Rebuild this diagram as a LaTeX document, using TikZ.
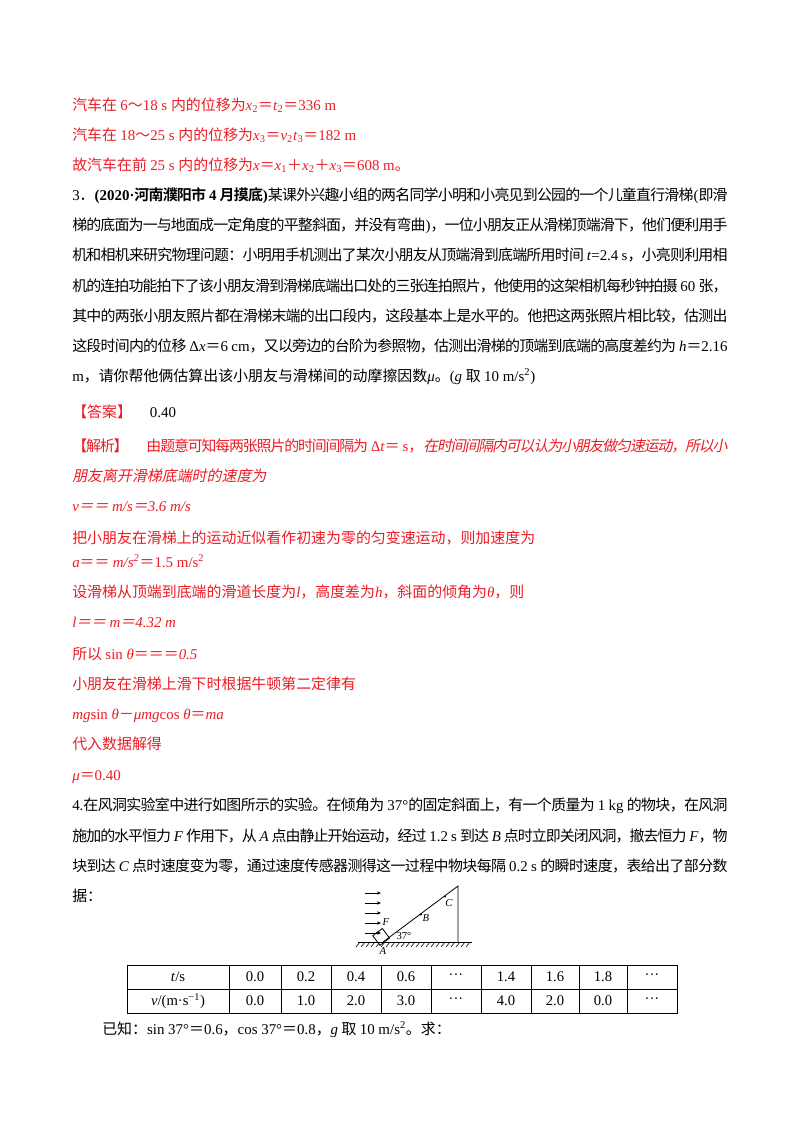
\documentclass[tikz,border=0pt]{standalone}
\usetikzlibrary{arrows.meta}
\usepackage{fontspec}
\setmainfont{Liberation Serif}
\newfontfamily\latinf{Liberation Serif}
\newfontfamily\cjk{Noto Sans CJK SC}[ItalicFont={Noto Sans CJK SC},ItalicFeatures={FakeSlant=0.2},BoldFont={Noto Sans CJK SC Bold},BoldItalicFont={Noto Sans CJK SC Bold},BoldItalicFeatures={FakeSlant=0.2}]
\XeTeXinterchartokenstate=1
\newXeTeXintercharclass\cjkcls
\newcount\cc
\cc="3000 \loop \XeTeXcharclass\cc=\cjkcls \advance\cc1 \ifnum\cc<"3040 \repeat
\cc="4E00 \loop \XeTeXcharclass\cc=\cjkcls \advance\cc1 \ifnum\cc<"A000 \repeat
\cc="FF00 \loop \XeTeXcharclass\cc=\cjkcls \advance\cc1 \ifnum\cc<"FFF0 \repeat
\XeTeXinterchartoks 0 \cjkcls={\cjk}
\XeTeXinterchartoks 4095 \cjkcls={\cjk}
\XeTeXinterchartoks \cjkcls 0={\latinf}
\XeTeXinterchartoks 4095 0={\latinf}
\XeTeXinterchartoks \cjkcls \cjkcls={\hskip0pt plus 0.8pt minus 1.5pt\relax}
\definecolor{rd}{RGB}{236,28,36}
\newcommand{\vi}[1]{\textit{#1}}
\newcommand{\sbs}[1]{\textsubscript{#1}}
\newcommand{\sps}[1]{\textsuperscript{#1}}
\newcommand{\fl}[1]{\makebox[491.5pt][s]{#1}}
\begin{document}
\begin{tikzpicture}[x=0.75pt,y=-0.75pt,
  ln/.style={anchor=base west,inner sep=0pt,font=\fontsize{11.2}{13}\selectfont},
  full/.style={ln},
  red/.style={text=rd},
  lbl/.style={inner sep=0pt,font=\fontsize{8}{9}\selectfont\itshape},
  cell/.style={inner sep=0pt,font=\fontsize{11}{13}\selectfont}]
\useasboundingbox (0,0) rectangle (800,1132);
\node[ln,red] (l1) at (72,110) {汽车在 6～18 s 内的位移为\vi{x}\sbs{2}＝\vi{t}\sbs{2}＝336 m};
\node[ln,red] (l2) at (72,140) {汽车在 18～25 s 内的位移为\vi{x}\sbs{3}＝\vi{v}\sbs{2}\vi{t}\sbs{3}＝182 m};
\node[ln,red] (l3) at (72,170) {故汽车在前 25 s 内的位移为\vi{x}＝\vi{x}\sbs{1}＋\vi{x}\sbs{2}＋\vi{x}\sbs{3}＝608 m。};
\node[full] (l4) at (72,200) {\fl{3．\textbf{(2020·河南濮阳市 4 月摸底)}某课外兴趣小组的两名同学小明和小亮见到公园的一个儿童直行滑梯(即滑}};
\node[full] (l5) at (72,230) {\fl{梯的底面为一与地面成一定角度的平整斜面，并没有弯曲)，一位小朋友正从滑梯顶端滑下，他们便利用手}};
\node[full] (l6) at (72,260) {\fl{机和相机来研究物理问题：小明用手机测出了某次小朋友从顶端滑到底端所用时间 \vi{t}=2.4 s，小亮则利用相}};
\node[full] (l7) at (72,291) {\fl{机的连拍功能拍下了该小朋友滑到滑梯底端出口处的三张连拍照片，他使用的这架相机每秒钟拍摄 60 张，}};
\node[full] (l8) at (72,321) {\fl{其中的两张小朋友照片都在滑梯末端的出口段内，这段基本上是水平的。他把这两张照片相比较，估测出}};
\node[full] (l9) at (72,351) {\fl{这段时间内的位移 Δ\vi{x}＝6 cm，又以旁边的台阶为参照物，估测出滑梯的顶端到底端的高度差约为 \vi{h}＝2.16}};
\node[ln] (l10) at (72,381) {m，请你帮他俩估算出该小朋友与滑梯间的动摩擦因数\vi{μ}。(\vi{g} 取 10 m/s\sps{2})};
\node[ln] (l11) at (72,417) {\textcolor{rd}{【答案】}\hspace{1.2em}0.40};
\node[full,red] (l12) at (72,451) {\fl{【解析】\hspace{1.2em}由题意可知每两张照片的时间间隔为 Δ\vi{t}＝ s，\itshape 在时间间隔内可以认为小朋友做匀速运动，所以小}};
\node[ln,red] (l13) at (72,481) {\itshape 朋友离开滑梯底端时的速度为};
\node[ln,red] (l14) at (72,511) {\itshape v＝＝ m/s＝3.6 m/s};
\node[ln,red] (l15) at (72,543) {把小朋友在滑梯上的运动近似看作初速为零的匀变速运动，则加速度为};
\node[ln,red] (l16) at (72,567) {\vi{a}＝＝ \vi{m/s\sps{2}}＝1.5 m/s\sps{2}};
\node[ln,red] (l17) at (72,597) {设滑梯从顶端到底端的滑道长度为\vi{l}，高度差为\vi{h}，斜面的倾角为\vi{θ}，则};
\node[ln,red] (l18) at (72,627) {\itshape l＝＝ m＝4.32 m};
\node[ln,red] (l19) at (72,659) {所以 sin \vi{θ}＝＝＝\vi{0.5}};
\node[ln,red] (l20) at (72,689) {小朋友在滑梯上滑下时根据牛顿第二定律有};
\node[ln,red] (l21) at (72,719) {\vi{mg}sin \vi{θ}－\vi{μmg}cos \vi{θ}＝\vi{ma}};
\node[ln,red] (l22) at (72,749) {代入数据解得};
\node[ln,red] (l23) at (72,780) {\vi{μ}＝0.40};
\node[full] (l24) at (72,810) {\fl{4.在风洞实验室中进行如图所示的实验。在倾角为 37°的固定斜面上，有一个质量为 1 kg 的物块，在风洞}};
\node[full] (l25) at (72,841) {\fl{施加的水平恒力 \vi{F} 作用下，从 \vi{A} 点由静止开始运动，经过 1.2 s 到达 \vi{B} 点时立即关闭风洞，撤去恒力 \vi{F}，物}};
\node[full] (l26) at (72,871) {\fl{块到达 \vi{C} 点时速度变为零，通过速度传感器测得这一过程中物块每隔 0.2 s 的瞬时速度，表给出了部分数}};
\node[ln] (l27) at (72,901) {据：};
% figure
\coordinate (gl) at (358,942); \coordinate (gr) at (472,942);
\coordinate (A) at (383,942); \coordinate (T) at (458,886); \coordinate (Tb) at (458,942);
\draw[line width=0.6pt] (gl) -- (gr);
\foreach \i in {0,...,22} \draw[line width=0.4pt] (360+5*\i,942) -- ++(-4,5);
\draw[line width=0.6pt] (A) -- (T) -- (Tb);
\node[draw,line width=0.6pt,minimum size=9pt,inner sep=0pt,rotate=37,anchor=south] (blk) at (385,942) {};
\foreach \yy in {893,903,913,923,933} \draw[-{Stealth[length=3pt,width=2.5pt]},line width=0.5pt] (365,\yy) -- (381,\yy);
\fill (421,914.5) circle (1.1) (445,896.5) circle (1.1);
\node[lbl] (fB) at (426,918) {B};
\node[lbl] (fC) at (449,903) {C};
\node[lbl] (fF) at (386,922) {F};
\node[inner sep=0pt,font=\fontsize{8}{9}\selectfont] (ang) at (404,936) {37°};
\node[lbl] (fA) at (383,951) {A};
% table
\draw[line width=0.5pt] (127,965) rectangle (677,1013);
\draw[line width=0.5pt] (127,989) -- (677,989);
\foreach \xx in {229,281,331,381,431,481,531,579,627} \draw[line width=0.5pt] (\xx,965) -- (\xx,1013);
\node[cell] (h0) at (178,977) {\vi{t}/s};
\node[cell] (v0) at (178,1001) {\vi{v}/(m·s\sps{−1})};
\foreach \x/\a/\b [count=\k] in {255/0.0/0.0,306/0.2/1.0,356/0.4/2.0,406/0.6/3.0,456/···/···,506/1.4/4.0,555/1.6/2.0,603/1.8/0.0,652/···/···}{
  \node[cell] (h\k) at (\x,977) {\a};
  \node[cell] (v\k) at (\x,1001) {\b};}
\node[ln] (l28) at (102,1034) {已知：sin 37°＝0.6，cos 37°＝0.8，\vi{g} 取 10 m/s\sps{2}。求：};
\end{tikzpicture}
\end{document}
